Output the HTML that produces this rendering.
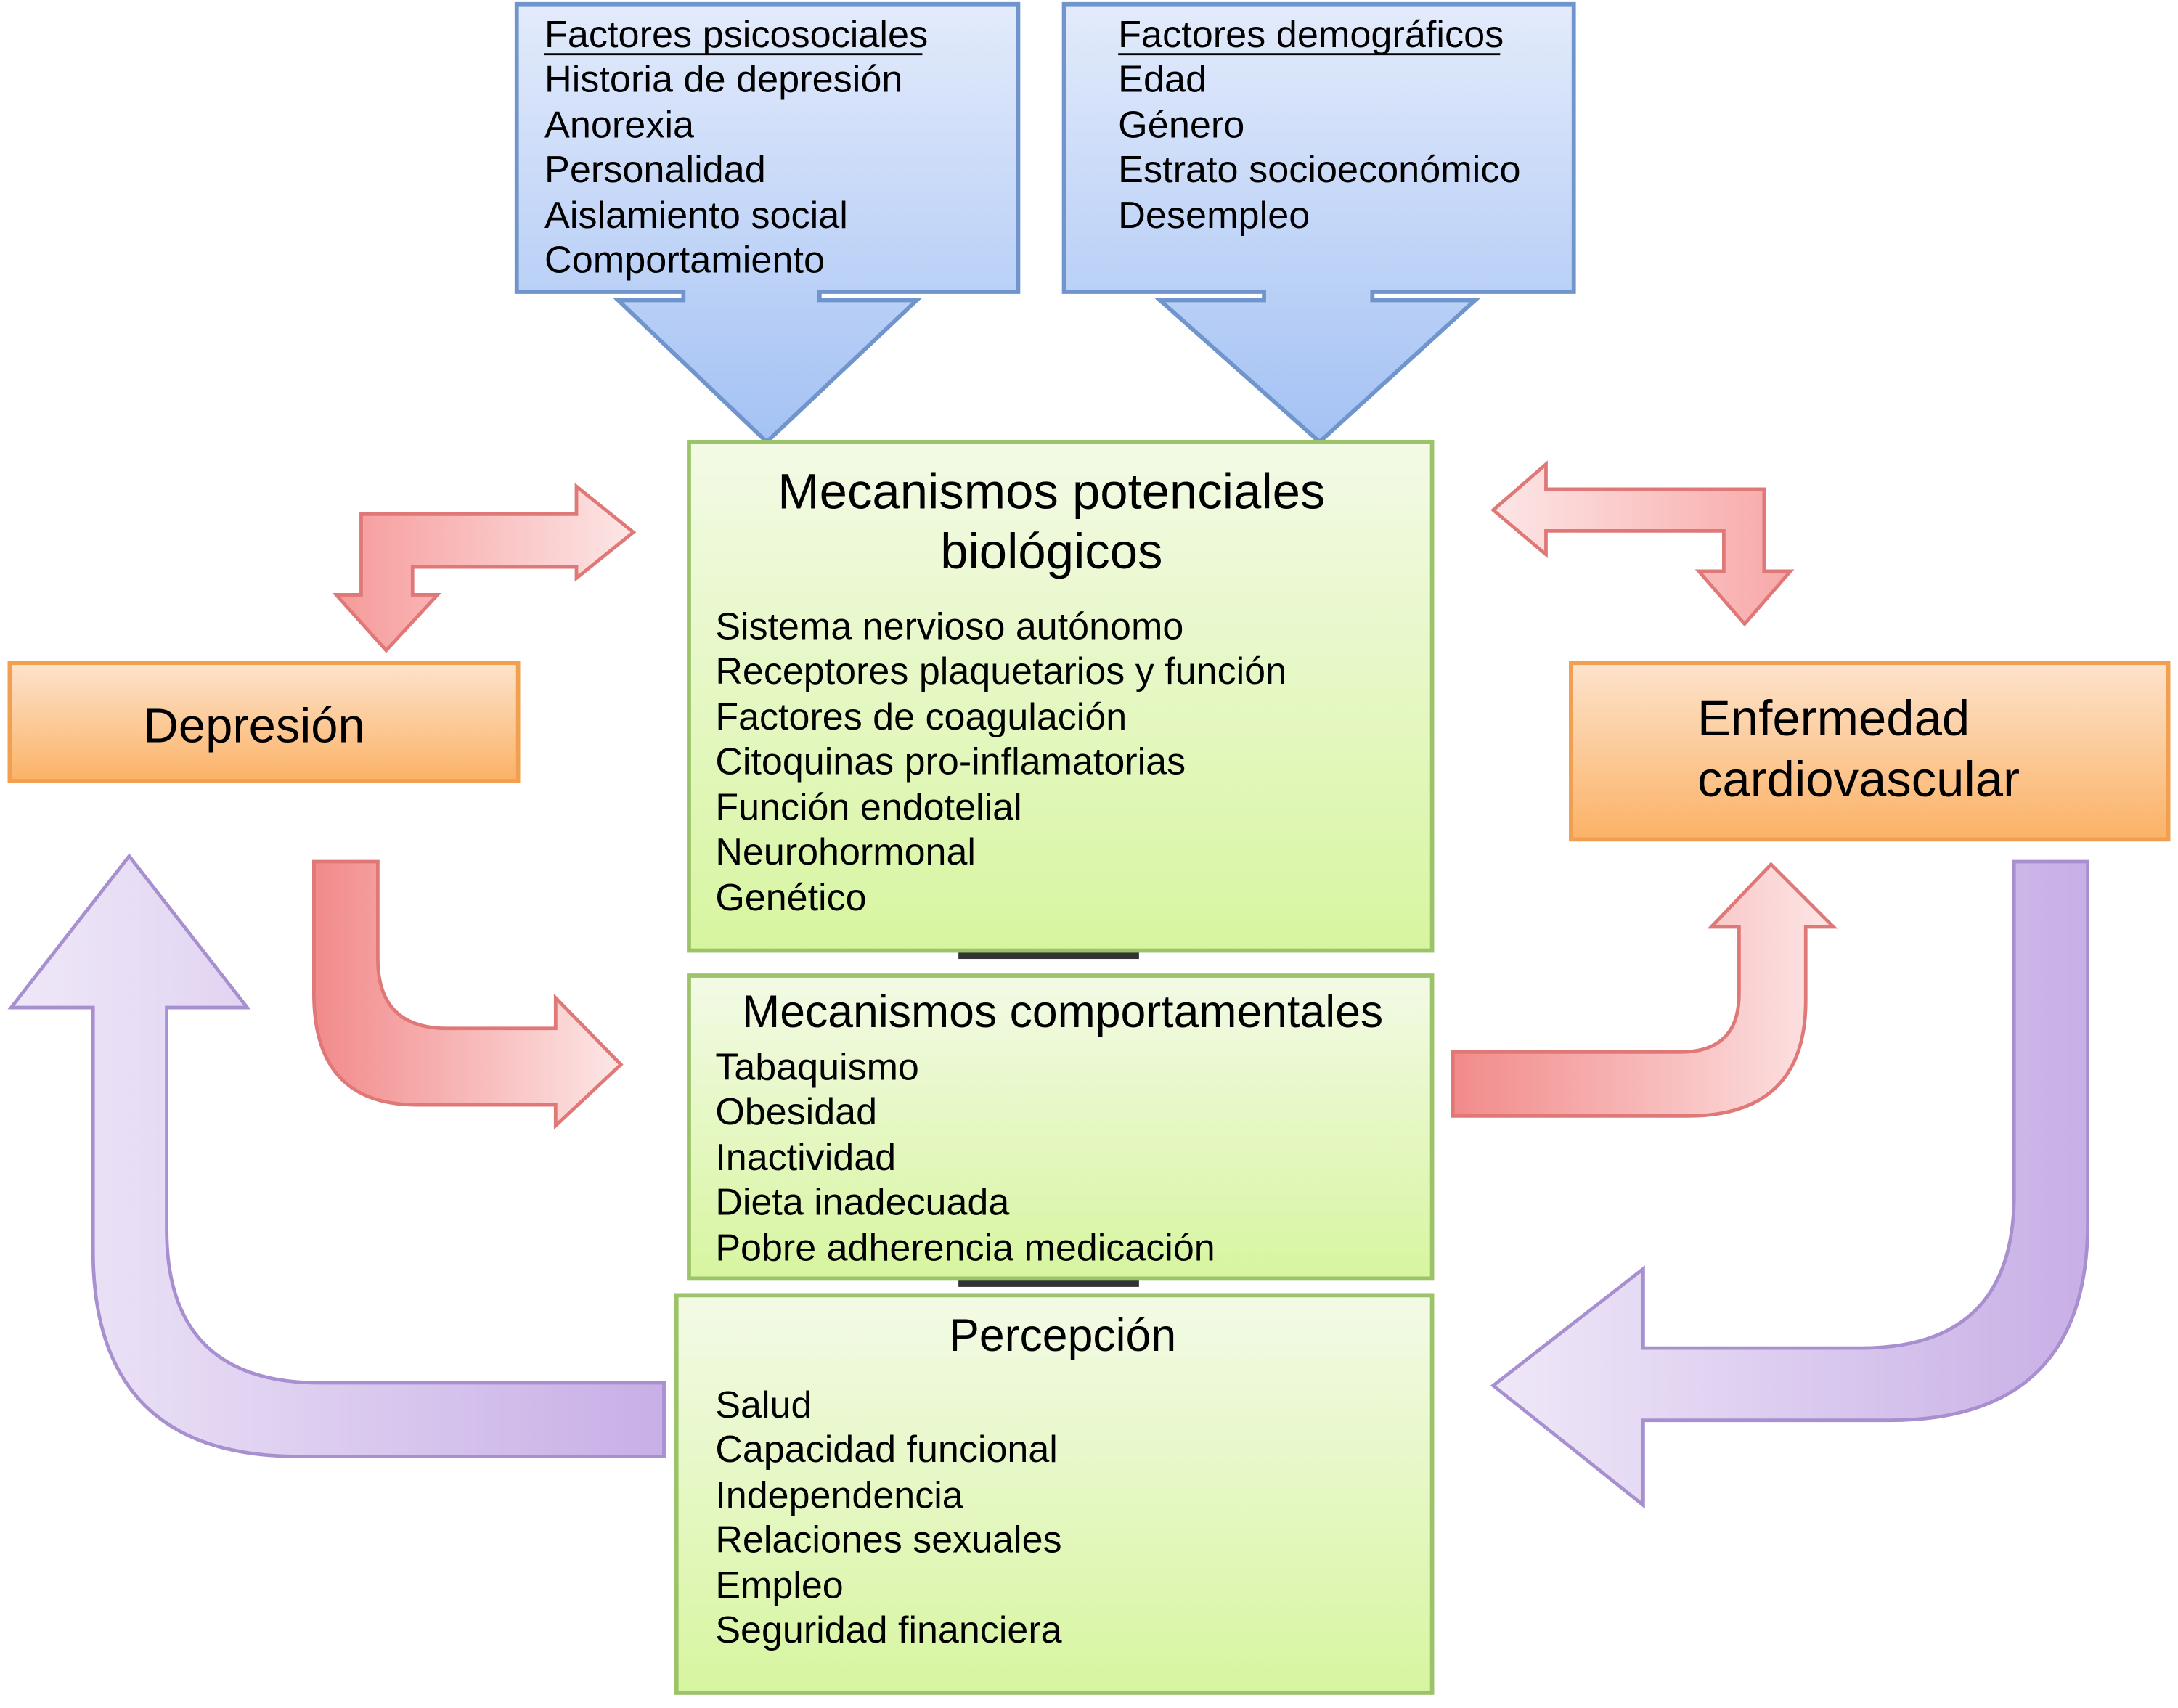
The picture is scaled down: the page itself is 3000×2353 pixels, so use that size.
<!DOCTYPE html>
<html><head><meta charset="utf-8"><style>
html,body{margin:0;padding:0;background:#fff;}
svg{display:block;}
text{font-family:"Liberation Sans","DejaVu Sans",sans-serif;fill:#000;}
</style></head><body>
<svg width="3000" height="2353" viewBox="0 0 1568 1229" preserveAspectRatio="none" xmlns="http://www.w3.org/2000/svg">
<defs>
<linearGradient id="blue" x1="0" y1="0" x2="0" y2="1"><stop offset="0" stop-color="#e3ebfb"/><stop offset="1" stop-color="#a4c2f4"/></linearGradient>
<linearGradient id="green" x1="0" y1="0" x2="0" y2="1"><stop offset="0" stop-color="#f3fae6"/><stop offset="1" stop-color="#d7f5a0"/></linearGradient>
<linearGradient id="orange" x1="0" y1="0" x2="0" y2="1"><stop offset="0" stop-color="#fde3cc"/><stop offset="1" stop-color="#fbb266"/></linearGradient>
<linearGradient id="redH" x1="0" y1="0" x2="1" y2="0"><stop offset="0" stop-color="#f69a9a"/><stop offset="1" stop-color="#fde6e6"/></linearGradient>
<linearGradient id="redHr" x1="0" y1="0" x2="1" y2="0"><stop offset="0" stop-color="#fde6e6"/><stop offset="1" stop-color="#f8a8a8"/></linearGradient>
<linearGradient id="redH2" x1="0" y1="0" x2="1" y2="0"><stop offset="0" stop-color="#f28a8a"/><stop offset="1" stop-color="#fde6e6"/></linearGradient>
<linearGradient id="purL" x1="1" y1="0" x2="0" y2="0"><stop offset="0" stop-color="#c8afe6"/><stop offset="1" stop-color="#efe8f8"/></linearGradient>
</defs>

<path d="M372 3 H733 V210 H590 V216 H660 L552 318 L445 216 H492 V210 H372 Z" fill="url(#blue)" stroke="#6f95cc" stroke-width="3"/>
<path d="M766 3 H1133 V210 H988 V216 H1062 L950 318 L835 216 H910 V210 H766 Z" fill="url(#blue)" stroke="#6f95cc" stroke-width="3"/>
<g font-size="27.3">
<text x="392" y="34">Factores psicosociales</text>
<line x1="392" y1="39" x2="664" y2="39" stroke="#000" stroke-width="1.5"/>
<text x="392" y="66">Historia de depresión</text>
<text x="392" y="99">Anorexia</text>
<text x="392" y="131">Personalidad</text>
<text x="392" y="164">Aislamiento social</text>
<text x="392" y="196">Comportamiento</text>
<text x="805" y="34">Factores demográficos</text>
<line x1="805" y1="39" x2="1080" y2="39" stroke="#000" stroke-width="1.5"/>
<text x="805" y="66">Edad</text>
<text x="805" y="99">Género</text>
<text x="805" y="131">Estrato socioeconómico</text>
<text x="805" y="164">Desempleo</text>
</g>

<rect x="690" y="680" width="130" height="10" fill="#333"/>
<rect x="690" y="916" width="130" height="10" fill="#333"/>

<rect x="496" y="318" width="535" height="366" fill="url(#green)" stroke="#9cc36a" stroke-width="3"/>
<rect x="496" y="702" width="535" height="218" fill="url(#green)" stroke="#9cc36a" stroke-width="3"/>
<rect x="487" y="932" width="544" height="286" fill="url(#green)" stroke="#9cc36a" stroke-width="3"/>
<g font-size="36" text-anchor="middle">
<text x="757" y="366">Mecanismos potenciales</text>
<text x="757" y="409">biológicos</text>
</g>
<text x="765" y="739" font-size="32.7" text-anchor="middle">Mecanismos comportamentales</text>
<text x="765" y="972" font-size="32.7" text-anchor="middle">Percepción</text>
<g font-size="27.2">
<text x="515" y="460">Sistema nervioso autónomo</text>
<text x="515" y="492">Receptores plaquetarios y función</text>
<text x="515" y="525">Factores de coagulación</text>
<text x="515" y="557">Citoquinas pro-inflamatorias</text>
<text x="515" y="590">Función endotelial</text>
<text x="515" y="622">Neurohormonal</text>
<text x="515" y="655">Genético</text>
<text x="515" y="777">Tabaquismo</text>
<text x="515" y="809">Obesidad</text>
<text x="515" y="842">Inactividad</text>
<text x="515" y="874">Dieta inadecuada</text>
<text x="515" y="907">Pobre adherencia medicación</text>
<text x="515" y="1020">Salud</text>
<text x="515" y="1052">Capacidad funcional</text>
<text x="515" y="1085">Independencia</text>
<text x="515" y="1117">Relaciones sexuales</text>
<text x="515" y="1150">Empleo</text>
<text x="515" y="1182">Seguridad financiera</text>
</g>

<rect x="7" y="477" width="366" height="85" fill="url(#orange)" stroke="#f0a050" stroke-width="3"/>
<text x="183" y="534" font-size="35" text-anchor="middle">Depresión</text>
<rect x="1131" y="477" width="430" height="127" fill="url(#orange)" stroke="#f0a050" stroke-width="3"/>
<g font-size="36"><text x="1222" y="529">Enfermedad</text><text x="1222" y="573">cardiovascular</text></g>

<path d="M260 370 H415 V350 L456 383 L415 416 V408 H297 V428 H315 L278 468 L242 428 H260 Z" fill="url(#redH)" stroke="#e07878" stroke-width="2.5"/>
<path d="M1113 352 V334 L1075 367 L1113 399 V382 H1241 V411 H1223 L1256 449 L1289 411 H1270 V352 Z" fill="url(#redHr)" stroke="#e07878" stroke-width="2.5"/>

<path d="M226 620 H272 V690 Q272 740 322 740 H400 V718 L447 766 L400 810 V795 H300 Q226 795 226 715 Z" fill="url(#redH2)" stroke="#e07878" stroke-width="2.5"/>
<path d="M1046 757 H1210 Q1252 757 1252 715 V667 H1232 L1275 622 L1320 667 H1300 V720 Q1300 803 1215 803 H1046 Z" fill="url(#redH2)" stroke="#e07878" stroke-width="2.5"/>

<path d="M478 995 H230 Q120 995 120 885 V725 H178 L93 616 L8 725 H67 V900 Q67 1048 215 1048 H478 Z" fill="url(#purL)" stroke="#a88fd0" stroke-width="2.5"/>
<path d="M1450 620 H1503 V880 Q1503 1022 1360 1022 H1183 V1083 L1075 997 L1183 913 V970 H1340 Q1450 970 1450 860 Z" fill="url(#purL)" stroke="#a88fd0" stroke-width="2.5"/>
</svg>
</body></html>
